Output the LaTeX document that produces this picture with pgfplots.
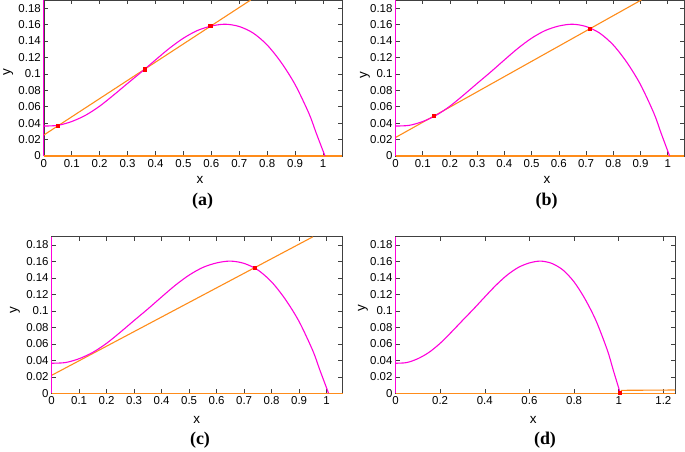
\documentclass[border=0pt]{standalone}
\usepackage{pgfplots}
\usepackage{pgfplotstable}
\pgfplotsset{compat=1.18}
\usepackage{fontspec}
\setmainfont{Liberation Sans}
\newfontfamily\serifbold{Liberation Serif}
\definecolor{mag}{RGB}{255,0,220}
\definecolor{org}{RGB}{255,140,26}

\pgfplotstableread{
x y
0 0.0365
0.05 0.0373
0.10 0.0420
0.15 0.0497
0.20 0.0607
0.25 0.0742
0.30 0.0884
0.35 0.1024
0.40 0.1170
0.45 0.1312
0.50 0.1435
0.55 0.1528
0.60 0.1583
0.65 0.1605
0.70 0.1577
0.75 0.1497
0.80 0.1352
0.85 0.1140
0.90 0.0870
0.95 0.0515
0.975 0.0285
1.007 0
}\curve

\pgfplotsset{
 panel/.style={
  scale only axis, anchor=south west,
  ymin=0, ymax=0.19,
  ytick={0,0.02,0.04,0.06,0.08,0.1,0.12,0.14,0.16,0.18},
  yticklabels={0,0.02,0.04,0.06,0.08,0.1,0.12,0.14,0.16,0.18},
  scaled ticks=false,
  tick align=inside,
  major tick length=4.5bp,
  axis line style={black!75, line width=0.6bp},
  tick style={black!75, line width=0.6bp},
  ticklabel style={font=\fontsize{11.5}{13}\selectfont, black},
  yticklabel style={xshift=0.5bp},
  clip=false,
  every axis plot/.append style={line width=1.1bp},
 },
 tenths/.style={
  xtick={0,0.1,0.2,0.3,0.4,0.5,0.6,0.7,0.8,0.9,1},
  xticklabels={0,0.1,0.2,0.3,0.4,0.5,0.6,0.7,0.8,0.9,1},
 }
}

\begin{document}
\begin{tikzpicture}
\useasboundingbox (0,0) rectangle (685bp,452bp);

% (a)
\begin{axis}[panel, tenths, at={(43.8bp,296bp)}, width=298.2bp, height=156bp, xmin=0, xmax=1.068]
\addplot[org, line width=1.3bp] coordinates {(0,0) (1.068,0)};
\addplot[org] coordinates {(0,0.0255) (0.741,0.19)};
\addplot[mag, smooth] table {\curve};
\addplot[mag, line width=1.3bp] coordinates {(0,0) (0,0.19)};
\addplot[red, only marks, mark=square*, mark size=1.5bp] coordinates {(0.05,0.0366) (0.361,0.1054) (0.597,0.158)};
\end{axis}

% (b)
\begin{axis}[panel, tenths, at={(395.5bp,296bp)}, width=288.8bp, height=156bp, xmin=0, xmax=1.061]
\addplot[org, line width=1.3bp] coordinates {(0,0) (1.061,0)};
\addplot[org] coordinates {(0,0.0225) (0.903,0.19)};
\addplot[mag, smooth] table {\curve};
\addplot[mag, line width=1.3bp] coordinates {(0,0) (0,0.19)};
\addplot[red, only marks, mark=square*, mark size=1.5bp] coordinates {(0.142,0.0488) (0.716,0.155)};
\end{axis}

% (c)
\begin{axis}[panel, tenths, at={(51.6bp,58.7bp)}, width=291bp, height=156.5bp, xmin=0, xmax=1.058]
\addplot[org, line width=1.3bp] coordinates {(0,0) (1.058,0)};
\addplot[org] coordinates {(0,0.0218) (0.95,0.19)};
\addplot[mag, smooth] table {\curve};
\addplot[mag, line width=1.3bp] coordinates {(0,0) (0,0.19)};
\addplot[red, only marks, mark=square*, mark size=1.5bp] coordinates {(0.739,0.1526)};
\end{axis}

% (d)
\begin{axis}[panel, at={(395.5bp,58.7bp)}, width=279.5bp, height=156.5bp, xmin=0, xmax=1.252,
  xtick={0,0.2,0.4,0.6,0.8,1,1.2}, xticklabels={0,0.2,0.4,0.6,0.8,1,1.2}]
\addplot[org, line width=1.3bp] coordinates {(0,0) (1.252,0)};
\addplot[org] coordinates {(1.01,0) (1.012,0.0036) (1.252,0.004)};
\addplot[mag, smooth] table {\curve};
\addplot[mag, line width=1.3bp] coordinates {(0,0) (0,0.19)};
\addplot[red, only marks, mark=square*, mark size=1.5bp] coordinates {(1.004,0)};
\end{axis}

% axis labels
\begin{scope}[every node/.style={font=\fontsize{13.5}{15}\selectfont}]
\node at (200bp,272bp) {x};
\node at (547bp,272bp) {x};
\node at (196.7bp,32bp) {x};
\node at (533.3bp,32bp) {x};
\node[rotate=90] at (8.3bp,380bp) {y};
\node[rotate=90] at (365bp,377bp) {y};
\node[rotate=90] at (15bp,142bp) {y};
\node[rotate=90] at (363bp,144bp) {y};
\end{scope}
\begin{scope}[every node/.style={font=\serifbold\bfseries\fontsize{18}{21}\selectfont}]
\node at (202.7bp,251bp) {(a)};
\node at (546.7bp,251bp) {(b)};
\node at (200bp,12bp) {(c)};
\node at (545bp,12bp) {(d)};
\end{scope}
\end{tikzpicture}
\end{document}
